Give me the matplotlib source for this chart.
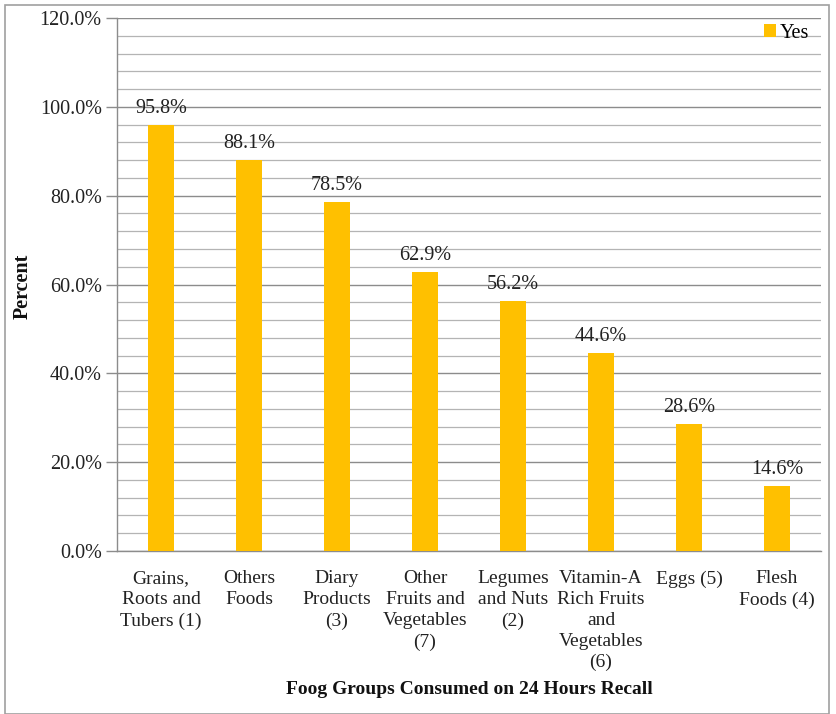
import matplotlib
matplotlib.use("Agg")
import matplotlib.pyplot as plt
from matplotlib.ticker import MultipleLocator, FuncFormatter
from matplotlib.patches import Rectangle

categories = ["Grains,\nRoots and\nTubers (1)", "Others\nFoods", "Diary\nProducts\n(3)",
              "Other\nFruits and\nVegetables\n(7)", "Legumes\nand Nuts\n(2)",
              "Vitamin-A\nRich Fruits\nand\nVegetables\n(6)", "Eggs (5)", "Flesh\nFoods (4)"]
values = [95.8, 88.1, 78.5, 62.9, 56.2, 44.6, 28.6, 14.6]
series_name = "Yes"

plt.rcParams['font.family'] = ['Liberation Serif', 'DejaVu Serif']
W, H = 836, 714
fig = plt.figure(figsize=(W/100, H/100), dpi=100)
ax = fig.add_axes([117/W, 1-551/H, (821-117)/W, (551-18)/H])

FS = 14.5
x = list(range(len(categories)))
bars = ax.bar(x, values, width=0.3, color="#FFC000", label=series_name, zorder=3)
for xi, v in zip(x, values):
    ax.text(xi, v + 1.6, f"{v:.1f}%", ha="center", va="bottom", fontsize=FS, color="#222222", zorder=4)

ax.set_xlim(-0.5, len(categories) - 0.5)
ax.set_ylim(0, 120)
ax.yaxis.set_major_locator(MultipleLocator(20))
ax.yaxis.set_minor_locator(MultipleLocator(4))
ax.yaxis.set_major_formatter(FuncFormatter(lambda v, p: f"{v:.1f}%"))
ax.grid(which="major", axis="y", color="#8c8c8c", linewidth=1.0, zorder=0)
ax.grid(which="minor", axis="y", color="#b4b4b4", linewidth=0.9, zorder=0)
ax.set_xticks(x)
ax.set_xticklabels(categories, fontsize=14, linespacing=1.3, va="top")
ax.tick_params(axis="x", length=0, pad=14, colors="#222222")
ax.tick_params(axis="y", which="major", length=8, width=1, color="#8c8c8c", labelsize=FS, labelcolor="#222222", pad=3)
ax.tick_params(axis="y", which="minor", length=0)
for s in ["top", "right"]:
    ax.spines[s].set_visible(False)
for s in ["left", "bottom"]:
    ax.spines[s].set_color("#8c8c8c")
    ax.spines[s].set_linewidth(1.0)

fig.text(23/W, 1-286/H, "Percent", rotation=90, ha="center", va="center",
         fontsize=FS, fontweight="bold", color="#111111")
fig.text(469/W, 1-690/H, "Foog Groups Consumed on 24 Hours Recall", ha="center", va="center",
         fontsize=14, fontweight="bold", color="#111111")

ax.legend(loc="upper right", bbox_to_anchor=(1.0, 1.012), frameon=False, fontsize=FS,
          handlelength=0.55, handleheight=0.55, handletextpad=0.2, borderaxespad=0.2)

fig.patches.append(Rectangle((5/W, 0), (829-5)/W, 1-5/H, transform=fig.transFigure,
                             fill=False, edgecolor="#a0a0a0", linewidth=1.2))
fig.savefig("out.png", dpi=100)
